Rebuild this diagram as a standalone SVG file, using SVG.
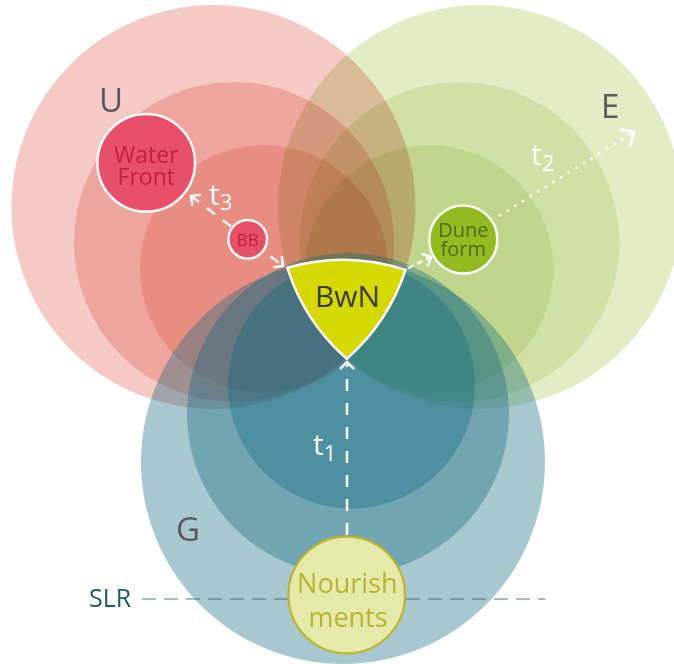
<svg xmlns="http://www.w3.org/2000/svg" width="674" height="664" viewBox="0 0 674 664">
<style>
  text { font-family: "Open Sans", "Noto Sans", "DejaVu Sans", sans-serif; }
  .red { fill: rgb(226,96,82); fill-opacity: 0.34; }
  .grn { fill: rgb(172,204,92); fill-opacity: 0.35; mix-blend-mode: multiply; }
  .grn2 { fill: rgb(172,204,92); fill-opacity: 0.26; mix-blend-mode: multiply; }
  .teal { fill: rgb(20,106,128); fill-opacity: 0.37; }
  .lbl { fill: #58595b; font-size: 33px; }
  .node-red { fill: #e8506a; stroke: #fff; stroke-width: 2.5; }
  .txt-red { fill: #c4203d; text-anchor: middle; }
  .conn { fill: none; stroke: #fff; stroke-width: 2.5; }
  .tl { fill: #fff; font-size: 30px; }
</style>
<defs>
  <marker id="ah" viewBox="-9 -10 11 20" refX="0" refY="0" markerUnits="userSpaceOnUse" markerWidth="11" markerHeight="20" orient="auto-start-reverse">
    <path d="M-7,-7 L0,0 L-7,7" fill="none" stroke="#fff" stroke-width="2.5" stroke-dasharray="none"/>
  </marker>
  <marker id="ah2" viewBox="-14 -14 16 28" refX="0" refY="0" markerUnits="userSpaceOnUse" markerWidth="16" markerHeight="28" orient="auto">
    <path d="M-11,-10 L0,0 L-11,10" fill="none" stroke="#fff" stroke-width="2.8" stroke-dasharray="none"/>
  </marker>
</defs>

<g id="circles">
  <g id="U-circles">
    <circle class="red" cx="213.5" cy="207" r="202"/>
    <circle class="red" cx="234" cy="242" r="160"/>
    <circle class="red" cx="264" cy="269" r="124"/>
  </g>
  <g id="E-circles">
    <circle class="grn" cx="480" cy="207" r="202"/>
    <circle class="grn2" cx="459.5" cy="242" r="160"/>
    <circle class="grn2" cx="429.5" cy="269" r="124"/>
  </g>
  <g id="G-circles">
    <circle class="teal" cx="343" cy="462" r="202"/>
    <circle class="teal" cx="348" cy="414" r="161"/>
    <circle class="teal" cx="351.5" cy="385" r="123.5"/>
  </g>
</g>

<g id="labels">
  <text class="lbl" x="99" y="112">U</text>
  <text class="lbl" x="601" y="118">E</text>
  <text class="lbl" x="176" y="541">G</text>
  <text x="89" y="607" font-size="25" fill="#1f5a6b">SLR</text>
  <line x1="142" y1="599" x2="545" y2="599" stroke="#2f6b7c" stroke-opacity="0.6" stroke-width="1.6" stroke-dasharray="14 8"/>
</g>

<g id="connectors">
  <path class="conn" d="M347,535 L347,362" stroke-dasharray="12 12" marker-end="url(#ah)"/>
  <path class="conn" d="M191,196 L283,266" stroke-dasharray="10 10" marker-start="url(#ah)" marker-end="url(#ah)"/>
  <path class="conn" d="M408,268 L431,257" stroke-dasharray="6 4" marker-end="url(#ah)"/>
  <path class="conn" d="M499,216 L634,132" stroke-dasharray="2.5 6.5" marker-end="url(#ah2)"/>
  <text class="tl" x="313" y="455">t<tspan font-size="22" dy="6">1</tspan></text>
  <text class="tl" x="531" y="165">t<tspan font-size="22" dy="6">2</tspan></text>
  <text class="tl" x="209" y="205">t<tspan font-size="22" dy="5">3</tspan></text>
</g>

<g id="node-waterfront">
  <circle class="node-red" cx="146.2" cy="162.8" r="48.8"/>
  <text class="txt-red" x="146.3" font-size="23"><tspan x="146.3" y="163.3">Water</tspan><tspan x="146.3" y="185">Front</tspan></text>
</g>

<g id="node-bb">
  <circle class="node-red" cx="247.7" cy="239.3" r="19.3"/>
  <text class="txt-red" x="247.7" y="245.5" font-size="17">BB</text>
</g>

<g id="node-duneform">
  <circle cx="463.3" cy="239.5" r="34" fill="#92bb1f" stroke="#fff" stroke-width="2.5"/>
  <text font-size="20" fill="#4d6a12" text-anchor="middle"><tspan x="463.3" y="237.3">Dune</tspan><tspan x="463.3" y="256">form</tspan></text>
</g>

<g id="node-bwn">
  <path d="M287.4,267.8 A202,202 0 0,1 405.5,269.9 A202,202 0 0,1 346.75,358.8 A202,202 0 0,1 287.4,267.8 Z" fill="#d6d900" stroke="#fff" stroke-width="2.5" stroke-linejoin="miter"/>
  <text x="347.5" y="307.3" font-size="30" fill="#3a3a3a" text-anchor="middle">BwN</text>
</g>

<g id="node-nourishments">
  <circle cx="346.7" cy="595" r="58.3" fill="#e5eaaa" stroke="#bdb52a" stroke-width="2.2"/>
  <text font-size="27" fill="#b9b42c" text-anchor="middle"><tspan x="347.3" y="593.3">Nourish</tspan><tspan x="348" y="626.7">ments</tspan></text>
</g>
</svg>
